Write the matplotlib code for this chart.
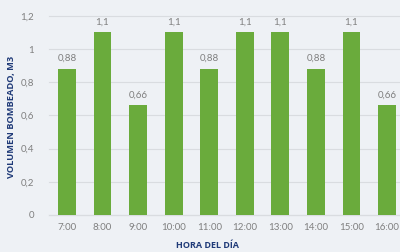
import matplotlib
matplotlib.use("Agg")
import matplotlib.pyplot as plt
import matplotlib.ticker as mticker

hours = ["7:00", "8:00", "9:00", "10:00", "11:00", "12:00", "13:00", "14:00", "15:00", "16:00"]
volume = [0.88, 1.1, 0.66, 1.1, 0.88, 1.1, 1.1, 0.88, 1.1, 0.66]
y_ticks = [0, 0.2, 0.4, 0.6, 0.8, 1.0, 1.2]

BG = "#eef1f5"
GREEN = "#6aab3c"
GRAY = "#7f7f7f"
NAVY = "#1f3a78"
TITLE_FONT = ["Liberation Sans Narrow", "Open Sans"]

plt.rcParams["font.family"] = "Lato"

fig = plt.figure(figsize=(4.0, 2.52), dpi=100, facecolor=BG)
ax = fig.add_axes([0.123, 0.147, 0.889, 0.79])
ax.set_facecolor(BG)

x = range(len(hours))
ax.bar(x, volume, width=0.5, color=GREEN, zorder=3)
for xi, v in zip(x, volume):
    label = f"{v:g}".replace(".", ",")
    ax.text(xi, v + 0.035, label, ha="center", va="bottom", fontsize=7, color=GRAY)

ax.set_xlim(-0.5, len(hours) - 0.5)
ax.set_ylim(0, 1.2)
ax.set_yticks(y_ticks)
ax.yaxis.set_major_formatter(mticker.FuncFormatter(lambda v, p: f"{v:g}".replace(".", ",")))
ax.set_xticks(list(x))
ax.set_xticklabels(hours)
ax.grid(axis="y", color="#d9dce0", lw=0.8, zorder=0)
for line in ax.get_ygridlines():
    line.set_clip_on(False)
for s in ax.spines.values():
    s.set_visible(False)
ax.spines["bottom"].set_visible(True)
ax.spines["bottom"].set_color("#d9dce0")
ax.tick_params(axis="both", length=0, labelsize=7, labelcolor=GRAY)
ax.tick_params(axis="y", pad=11)
ax.tick_params(axis="x", pad=6)

fig.text(0.028, 0.535, "VOLUMEN BOMBEADO, M3", rotation=90, ha="center", va="center",
         fontsize=6.7, fontweight="bold", color=NAVY, family=TITLE_FONT)
fig.text(0.518, 0.026, "HORA DEL DÍA", ha="center", va="center", fontsize=6.5,
         fontweight="bold", color=NAVY, family=TITLE_FONT)

fig.savefig("out.png", dpi=100, facecolor=BG)
